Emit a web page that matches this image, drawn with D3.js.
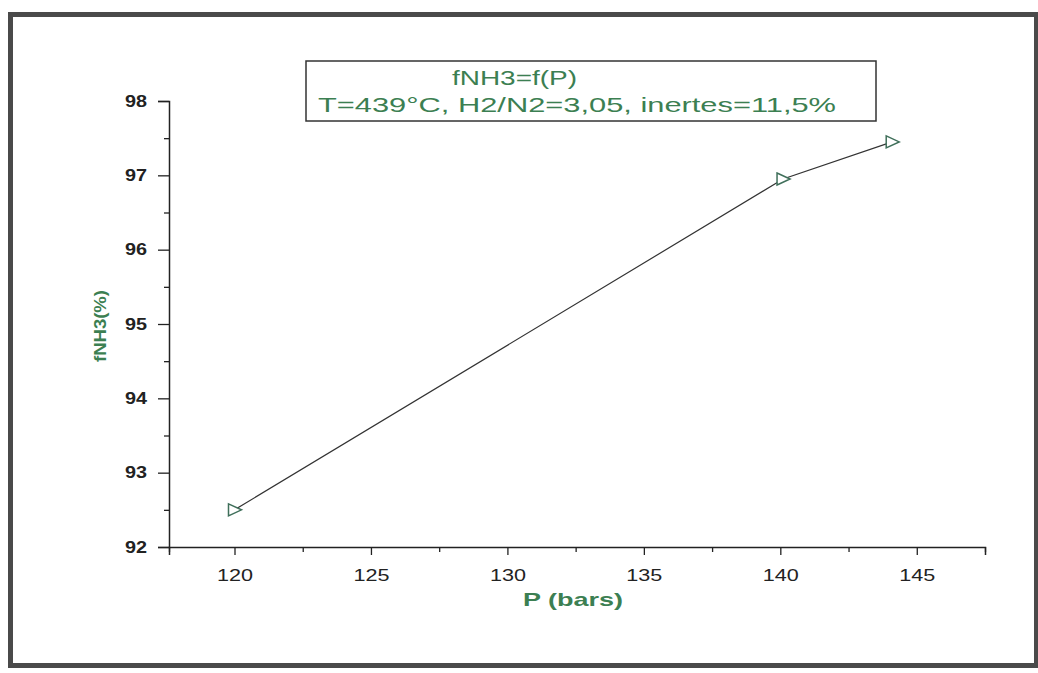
<!DOCTYPE html>
<html><head><meta charset="utf-8">
<script src="https://cdn.jsdelivr.net/npm/d3@7"></script>
<style>body{margin:0;background:#fff}svg{display:block}</style>
</head><body>
<script>
const pressure = [120, 140.1, 144.1];
const fNH3 = [92.5, 96.95, 97.45];
const xTicks = [120, 125, 130, 135, 140, 145];
const xMinorTicks = [117.6, 122.5, 127.5, 132.5, 137.5, 142.5, 147.5];
const yTicks = [92, 93, 94, 95, 96, 97, 98];
const yMinorTicks = [92.5, 93.5, 94.5, 95.5, 96.5, 97.5];
const titleLines = ["fNH3=f(P)", "T=439°C, H2/N2=3,05, inertes=11,5%"];

const W = 1038, H = 673;
const FONT = "Liberation Sans, Arial, sans-serif";
const svg = d3.select("body").append("svg").attr("width", W).attr("height", H);
svg.append("rect").attr("x", 0).attr("y", 0).attr("width", W).attr("height", H).attr("fill", "#fff");
// outer frame
svg.append("rect").attr("x", 10.5).attr("y", 14.5).attr("width", 1026).attr("height", 651)
  .attr("fill", "none").attr("stroke", "#4a4a4a").attr("stroke-width", 5);

const x = d3.scaleLinear().domain([117.6, 147.5]).range([169, 985]);
const y = d3.scaleLinear().domain([92, 98]).range([547, 101]);
const green = "#3c7f52";

const xAxis = svg.append("g").attr("transform", "translate(0,547)")
  .call(d3.axisBottom(x).tickValues(xTicks).tickSize(8).tickFormat(d3.format("d")));
svg.append("g").attr("transform", "translate(0,547)")
  .call(d3.axisBottom(x).tickValues(xMinorTicks).tickSize(5).tickFormat(""))
  .select(".domain").remove();
const yAxis = svg.append("g").attr("transform", "translate(169,0)")
  .call(d3.axisLeft(y).tickValues(yTicks).tickSize(11).tickFormat(d3.format("d")));
svg.append("g").attr("transform", "translate(169,0)")
  .call(d3.axisLeft(y).tickValues(yMinorTicks).tickSize(5).tickFormat(""))
  .select(".domain").remove();

svg.selectAll(".domain").attr("stroke", "#222").attr("stroke-width", 1.5);
svg.selectAll(".tick line").attr("stroke", "#222").attr("stroke-width", 1.3);
xAxis.selectAll("text").attr("font-family", FONT).attr("font-size", 16).attr("fill", "#222")
  .attr("dy", "1.45em").attr("textLength", 36).attr("lengthAdjust", "spacingAndGlyphs");
yAxis.selectAll("text").attr("font-family", FONT).attr("font-size", 16).attr("font-weight", "bold").attr("fill", "#222")
  .attr("x", -22).attr("textLength", 22).attr("lengthAdjust", "spacingAndGlyphs");

// line
const pts = pressure.map((p, i) => [p, fNH3[i]]);
svg.append("path").datum(pts)
  .attr("d", d3.line().x(d => x(d[0])).y(d => y(d[1])))
  .attr("fill", "none").attr("stroke", "#333").attr("stroke-width", 1.2);
// triangle markers (pointing right)
svg.selectAll(".mk").data(pts).enter().append("path")
  .attr("transform", d => `translate(${x(d[0])},${y(d[1])})`)
  .attr("d", "M-6,-6 L7,0 L-6,6 Z")
  .attr("fill", "#fff").attr("stroke", "#3f6f5a").attr("stroke-width", 1.5);

// title box
svg.append("rect").attr("x", 306).attr("y", 61).attr("width", 570).attr("height", 60)
  .attr("fill", "#fff").attr("stroke", "#333").attr("stroke-width", 1.5);
svg.append("text").attr("x", 452).attr("y", 85)
  .attr("font-family", FONT).attr("font-size", 21).attr("fill", green)
  .attr("textLength", 125).attr("lengthAdjust", "spacingAndGlyphs").text(titleLines[0]);
svg.append("text").attr("x", 318).attr("y", 112)
  .attr("font-family", FONT).attr("font-size", 21).attr("fill", green)
  .attr("textLength", 518).attr("lengthAdjust", "spacingAndGlyphs").text(titleLines[1]);

// axis titles
svg.append("text").attr("x", 523).attr("y", 606)
  .attr("font-family", FONT).attr("font-size", 19).attr("font-weight", "bold").attr("fill", green)
  .attr("textLength", 100).attr("lengthAdjust", "spacingAndGlyphs").text("P (bars)");
svg.append("text").attr("transform", "translate(106,362) rotate(-90)")
  .attr("font-family", FONT).attr("font-size", 16).attr("font-weight", "bold").attr("fill", green)
  .attr("textLength", 72).attr("lengthAdjust", "spacingAndGlyphs").text("fNH3(%)");
</script>
</body></html>
